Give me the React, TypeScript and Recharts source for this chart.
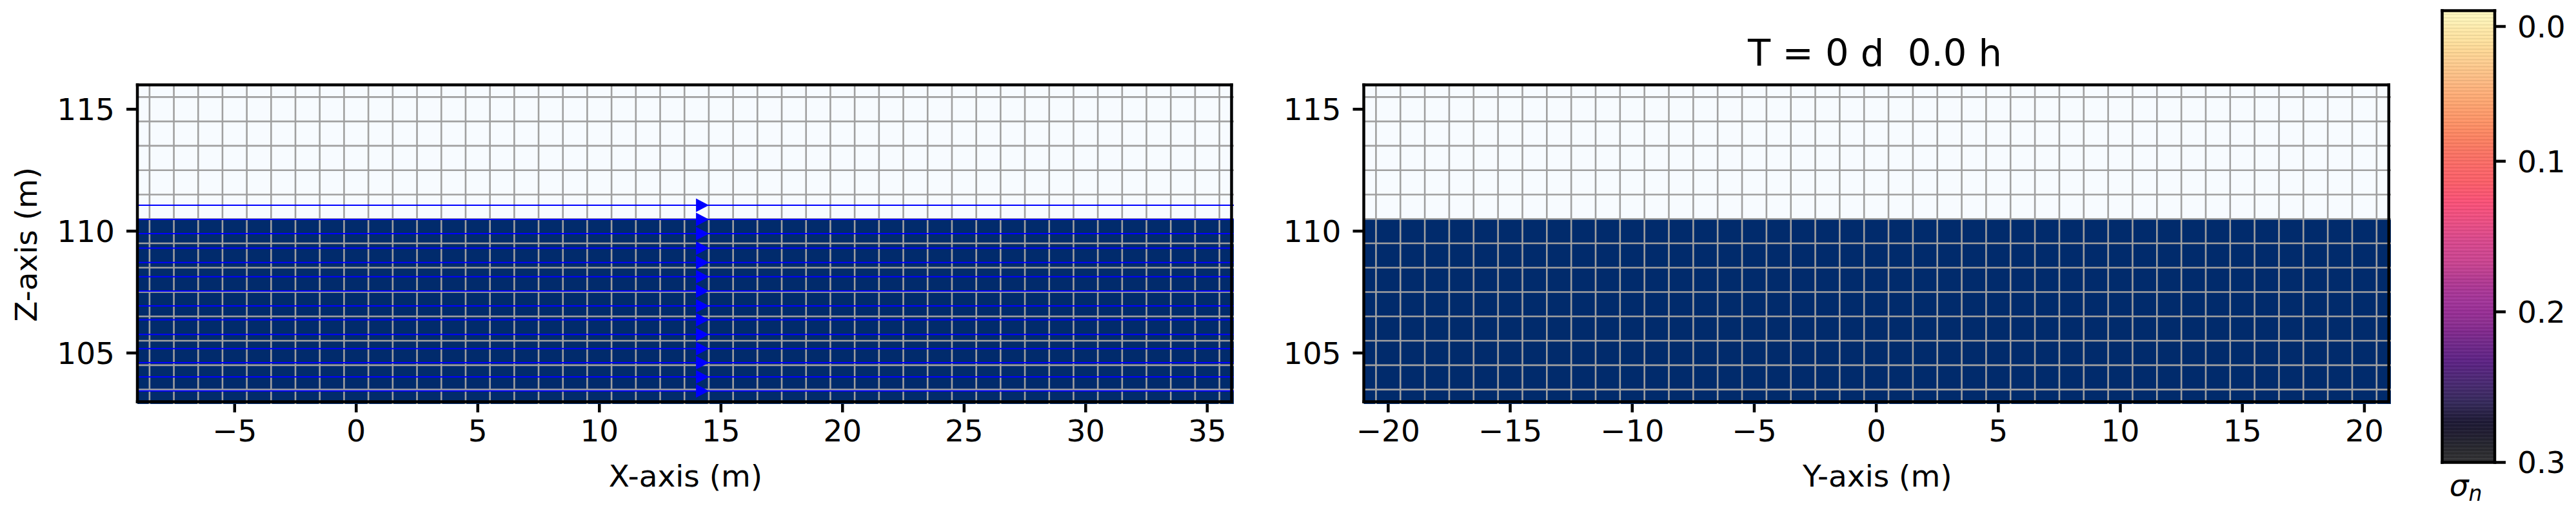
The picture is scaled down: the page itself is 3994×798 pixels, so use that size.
import { ComposedChart, Line, Scatter, XAxis, YAxis, ReferenceArea, ReferenceLine } from 'recharts'

const FONT = '"DejaVu Sans"'
const LIGHT = '#f7fbff'
const DARK = '#012b6c'
const MESH = '#a0a0a0'
const BLUE = '#0000ff'

// x-section panel
const X_TICKS = [-5, 0, 5, 10, 15, 20, 25, 30, 35]
const X_MESH = [-8.5, -7.5, -6.5, -5.5, -4.5, -3.5, -2.5, -1.5, -0.5, 0.5, 1.5, 2.5, 3.5, 4.5, 5.5, 6.5, 7.5, 8.5, 9.5, 10.5, 11.5, 12.5, 13.5, 14.5, 15.5, 16.5, 17.5, 18.5, 19.5, 20.5, 21.5, 22.5, 23.5, 24.5, 25.5, 26.5, 27.5, 28.5, 29.5, 30.5, 31.5, 32.5, 33.5, 34.5, 35.5]
// y-section panel
const Y_TICKS = [-20, -15, -10, -5, 0, 5, 10, 15, 20]
const Y_MESH = [-20.5, -19.5, -18.5, -17.5, -16.5, -15.5, -14.5, -13.5, -12.5, -11.5, -10.5, -9.5, -8.5, -7.5, -6.5, -5.5, -4.5, -3.5, -2.5, -1.5, -0.5, 0.5, 1.5, 2.5, 3.5, 4.5, 5.5, 6.5, 7.5, 8.5, 9.5, 10.5, 11.5, 12.5, 13.5, 14.5, 15.5, 16.5, 17.5, 18.5, 19.5, 20.5]
// shared depth axis
const Z_TICKS = [105, 110, 115]
const Z_MESH = [115.5, 114.5, 113.5, 112.5, 111.5, 110.5, 109.5, 108.5, 107.5, 106.5, 105.5, 104.5, 103.5]
const WATER_TABLE = 110.5
// flow lines and arrows at the section
const FLOW_Z = [111.06, 110.48, 109.9, 109.3, 108.71, 108.13, 107.54, 106.93, 106.36, 105.76, 105.18, 104.6, 104.02, 103.44]
const FLOW_X = 14.24

// colorbar
const CBAR_TICKS = [0.0105, 0.1, 0.2, 0.3]
const CBAR_COLORS = ['#fdf8c0', '#fef3b8', '#fee8a8', '#fee2a0', '#fed896', '#fecf92', '#fdc58a', '#fdbb84', '#feb17b', '#fea873', '#fe9e6d', '#fe9568', '#fd8a64', '#fc8062', '#fb7664', '#fb6e66', '#fc6669', '#fc6069', '#fb5970', '#fb5278', '#f4507e', '#ec4f84', '#e34c89', '#d9498e', '#d24790', '#cc4591', '#bf4092', '#b23a93', '#aa3797', '#a2359a', '#992f96', '#8f3092', '#82298e', '#742a8b', '#682688', '#5d2385', '#54267c', '#4b2a74', '#412a68', '#362a5c', '#2a2248', '#1e1a35', '#211d32', '#252530', '#2c2c30', '#333336']

const HEIGHT = 798
const PLOT_TOP = 131.5
const PLOT_BOTTOM = 626
const SPINE = 4.5
const Z_MIN = 102.907 // mesh bleeds a little past the bottom spine

function Triangle(props: { cx?: number; cy?: number }) {
  const { cx = 0, cy = 0 } = props
  return <polygon points={`${cx - 10},${cy - 10.5} ${cx + 10},${cy} ${cx - 10},${cy + 10.5}`} fill={BLUE} />
}

function spines(x0: number, x1: number, y0: number, y1: number) {
  const sides = [
    [{ x: x0, y: y0 }, { x: x1, y: y0 }],
    [{ x: x0, y: y1 }, { x: x1, y: y1 }],
    [{ x: x0, y: y0 }, { x: x0, y: y1 }],
    [{ x: x1, y: y0 }, { x: x1, y: y1 }],
  ]
  return sides.map((segment, i) => (
    <ReferenceLine key={i} segment={segment as any} stroke="#000" strokeWidth={SPINE} strokeLinecap="square" zIndex={900} />
  ))
}

function Section({ plotLeft, plotRight, domain, spineEnd, xTicks, xMesh, xLabel, yLabel, flow }: {
  plotLeft: number
  plotRight: number
  domain: [number, number]
  spineEnd: number
  xTicks: number[]
  xMesh: number[]
  xLabel: string
  yLabel?: string
  flow?: boolean
}) {
  const width = plotRight + 20
  const [xMin, xMax] = domain
  return (
    <div style={{ position: 'absolute', left: 0, top: 0 }}>
      <ComposedChart
        width={width}
        height={HEIGHT}
        margin={{ top: PLOT_TOP, right: width - plotRight, bottom: 0, left: 0 }}
      >
        <XAxis
          type="number" dataKey="x" domain={domain} ticks={xTicks} interval={0} allowDataOverflow
          height={HEIGHT - PLOT_BOTTOM}
          axisLine={false} tickSize={13} tickMargin={12}
          tickLine={{ stroke: '#000', strokeWidth: SPINE }}
          tick={{ fontSize: 47, fill: '#000', fontFamily: FONT }}
          tickFormatter={(v: number) => String(v).replace('-', '\u2212')}
          label={{ value: xLabel, position: 'insideBottom', offset: 44, fontSize: 47, fill: '#000', fontFamily: FONT }}
        />
        <YAxis
          type="number" dataKey="z" domain={[Z_MIN, 116]} ticks={Z_TICKS} interval={0} allowDataOverflow
          width={plotLeft}
          axisLine={false} tickSize={17} tickMargin={18}
          tickLine={{ stroke: '#000', strokeWidth: SPINE }}
          tick={{ fontSize: 47, fill: '#000', fontFamily: FONT }}
          label={yLabel ? { value: yLabel, angle: -90, position: 'insideLeft', offset: 40, fontSize: 47, fill: '#000', fontFamily: FONT, style: { textAnchor: 'middle' } } : undefined}
        />
        <ReferenceArea x1={xMin} x2={xMax} y1={WATER_TABLE} y2={116} fill={LIGHT} fillOpacity={1} stroke="none" />
        <ReferenceArea x1={xMin} x2={xMax} y1={Z_MIN} y2={WATER_TABLE} fill={DARK} fillOpacity={1} stroke="none" />
        {xMesh.map(v => <ReferenceLine key={`v${v}`} x={v} stroke={MESH} strokeWidth={2.6} />)}
        {Z_MESH.map(v => <ReferenceLine key={`h${v}`} y={v} stroke={MESH} strokeWidth={2.6} />)}
        {flow && FLOW_Z.map(z => (
          <Line
            key={z}
            data={[{ x: xMin, z }, { x: xMax, z }]}
            dataKey="z"
            stroke={BLUE}
            strokeWidth={2}
            dot={false}
            isAnimationActive={false}
            legendType="none"
          />
        ))}
        {flow && (
          <Scatter
            data={FLOW_Z.map(z => ({ x: FLOW_X, z }))}
            dataKey="z"
            shape={<Triangle />}
            isAnimationActive={false}
          />
        )}
        {spines(xMin, spineEnd, 103, 116)}
      </ComposedChart>
    </div>
  )
}

function Colorbar() {
  const width = 294
  const n = CBAR_COLORS.length
  return (
    <div style={{ position: 'absolute', left: 3700, top: 0 }}>
      <ComposedChart width={width} height={HEIGHT} margin={{ top: 16.5, right: 0, bottom: HEIGHT - 716.5, left: 86.5 }}>
        <defs>
          <linearGradient id="cbar" x1="0" y1="0" x2="0" y2="1">
            {CBAR_COLORS.map((c, i) => <stop key={i} offset={i / (n - 1)} stopColor={c} />)}
          </linearGradient>
          <pattern id="bands" width="4" height="5.4" patternUnits="userSpaceOnUse">
            <rect width="4" height="1.2" fill="#000" fillOpacity={0.1} />
            <rect y="2.7" width="4" height="1" fill="#fff" fillOpacity={0.07} />
          </pattern>
        </defs>
        <XAxis type="number" dataKey="x" domain={[0, 1]} hide allowDataOverflow />
        <YAxis
          type="number" orientation="right" reversed domain={[0, 0.3]} ticks={CBAR_TICKS} interval={0} allowDataOverflow
          width={width - 168}
          axisLine={false} tickSize={17} tickMargin={18}
          tickLine={{ stroke: '#000', strokeWidth: SPINE }}
          tick={{ fontSize: 47, fill: '#000', fontFamily: FONT, textAnchor: 'start' }}
          tickFormatter={(v: number) => v.toFixed(1)}
        />
        <ReferenceArea x1={0} x2={1} y1={0} y2={0.3} fill="url(#cbar)" fillOpacity={1} stroke="none" />
        <ReferenceArea x1={0} x2={1} y1={0} y2={0.3} fill="url(#bands)" fillOpacity={1} stroke="none" />
        {spines(0, 1, 0, 0.3)}
        <text x={123} y={768} textAnchor="middle" fontFamily={FONT} fontSize={47} fontStyle="italic" fill="#000">
          σ<tspan fontSize={33} dy={8}>n</tspan>
        </text>
      </ComposedChart>
    </div>
  )
}

export default function App() {
  return (
    <div style={{ position: 'absolute', left: 0, top: 0, width: 3994, height: HEIGHT, background: '#fff', overflow: 'hidden' }}>
      <Section plotLeft={213} plotRight={1913} domain={[-9, 36.093]} spineEnd={36} xTicks={X_TICKS} xMesh={X_MESH} xLabel="X-axis (m)" yLabel="Z-axis (m)" flow />
      <Section plotLeft={2114.5} plotRight={3707} domain={[-21, 21.086]} spineEnd={21} xTicks={Y_TICKS} xMesh={Y_MESH} xLabel="Y-axis (m)" />
      <div style={{ position: 'absolute', left: 2907, top: 50, transform: 'translateX(-50%)', fontFamily: FONT, fontSize: 57.5, whiteSpace: 'pre', lineHeight: '66px', color: '#000' }}>
        {'T = 0 d  0.0 h'}
      </div>
      <Colorbar />
    </div>
  )
}
